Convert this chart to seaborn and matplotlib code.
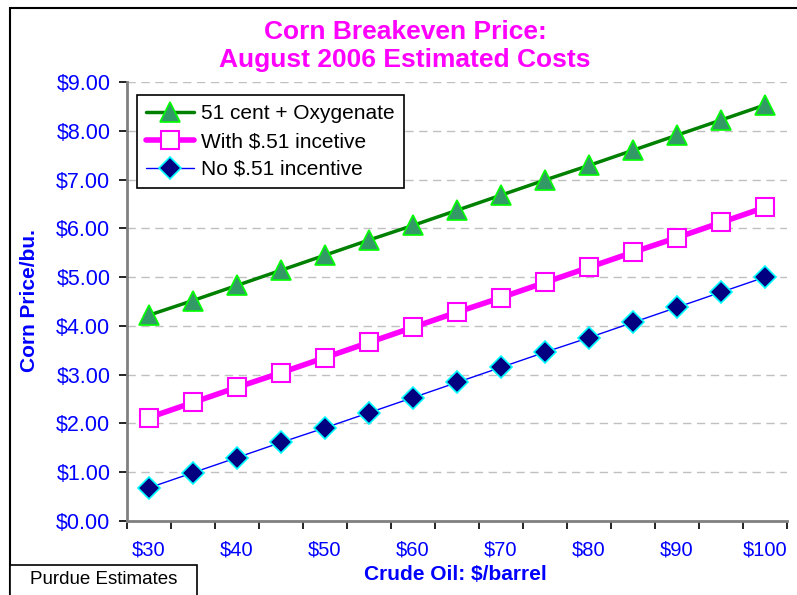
import pandas as pd
import numpy as np
import seaborn as sns
from matplotlib import pyplot as plt
from matplotlib.patches import Rectangle
from matplotlib.ticker import FixedLocator, FuncFormatter

# crude oil price, $/barrel
oil = [30, 35, 40, 45, 50, 55, 60, 65, 70, 75, 80, 85, 90, 95, 100]
# corn breakeven price, $/bu.
oxygenate = [4.22, 4.52, 4.83, 5.14, 5.45, 5.76, 6.06, 6.37, 6.68, 6.99, 7.29, 7.60, 7.91, 8.22, 8.53]
with_inc = [2.12, 2.43, 2.74, 3.04, 3.35, 3.66, 3.97, 4.28, 4.58, 4.89, 5.20, 5.51, 5.81, 6.12, 6.43]
no_inc = [0.68, 0.99, 1.30, 1.61, 1.91, 2.22, 2.53, 2.84, 3.15, 3.46, 3.76, 4.07, 4.38, 4.69, 5.00]

x_labels = [30, 40, 50, 60, 70, 80, 90, 100]
y_ticks = [0, 1, 2, 3, 4, 5, 6, 7, 8, 9]

df = pd.DataFrame({"oil": oil, "oxy": oxygenate, "with": with_inc, "no": no_inc})

sns.set_theme(style="white")
plt.rcParams["font.family"] = ["Liberation Sans", "DejaVu Sans"]

fig = plt.figure(figsize=(7.97, 5.95), dpi=100)
ax = fig.add_axes([127 / 797, 1 - 521 / 595, (787 - 127) / 797, (521 - 82) / 595])

blue = "#0000FF"

sns.lineplot(data=df, x="oil", y="oxy", ax=ax, color="#008000", lw=2.5,
             marker="^", markersize=15, markerfacecolor="#339966",
             markeredgecolor="#00FF00", markeredgewidth=1.2,
             label="51 cent + Oxygenate", zorder=3)
sns.lineplot(data=df, x="oil", y="with", ax=ax, color="#FF00FF", lw=4,
             marker="s", markersize=13, markerfacecolor="white",
             markeredgecolor="#FF00FF", markeredgewidth=1.5,
             label="With $.51 incetive", zorder=3)
sns.lineplot(data=df, x="oil", y="no", ax=ax, color="#0000FF", lw=1,
             marker="D", markersize=11.5, markerfacecolor="#000080",
             markeredgecolor="#00FFFF", markeredgewidth=1.2,
             label="No $.51 incentive", zorder=3)

ax.set_xlim(27.5, 102.5)
ax.set_ylim(0, 9)
ax.set_xticks(x_labels)
ax.set_xticklabels([f"${v}" for v in x_labels])
ax.xaxis.set_minor_locator(FixedLocator(np.arange(27.5, 103, 5)))
ax.tick_params(axis="x", which="major", length=0, pad=14, labelsize=14.5, labelcolor=blue)
ax.tick_params(axis="x", which="minor", length=6, width=1.2, color="black", direction="out", bottom=True)
ax.set_yticks(y_ticks)
ax.yaxis.set_major_formatter(FuncFormatter(lambda v, p: f"${v:.2f}"))
ax.tick_params(axis="y", length=6, width=1.2, color="black", direction="out", left=True,
               labelsize=15.5, labelcolor=blue, pad=6)

ax.grid(axis="y", color="#C0C0C0", ls=(0, (6, 4)), lw=1)
ax.grid(axis="x", visible=False)
for s in ["top", "right"]:
    ax.spines[s].set_visible(False)
for s in ["left", "bottom"]:
    ax.spines[s].set_color("#808080")
    ax.spines[s].set_linewidth(2)

ax.set_xlabel("")
ax.set_ylabel("")
fig.text(30 / 797, 1 - 301 / 595, "Corn Price/bu.", rotation=90, ha="center", va="center",
         fontsize=15, fontweight="bold", color=blue)
fig.text(455 / 797, 1 - 574 / 595, "Crude Oil: $/barrel", ha="center", va="center",
         fontsize=15, fontweight="bold", color=blue)
fig.text(405 / 797, 1 - 46 / 595, "Corn Breakeven Price:\nAugust 2006 Estimated Costs",
         ha="center", va="center", fontsize=19, fontweight="bold", color="#FF00FF",
         linespacing=1.25)

leg = ax.legend(loc="upper left", bbox_to_anchor=(137 / 797, 1 - 95 / 595),
                bbox_transform=fig.transFigure, fontsize=15, frameon=True,
                fancybox=False, edgecolor="black", framealpha=1,
                handlelength=2.3, labelspacing=0.42, borderpad=0.45,
                handletextpad=0.3, borderaxespad=0)
leg.get_frame().set_linewidth(1.2)
for t in leg.get_texts():
    t.set_color("black")

# outer chart border
fig.patches.append(Rectangle((10 / 797, -0.1), 1.0, 1.1 - 8 / 595, transform=fig.transFigure,
                             fill=False, edgecolor="black", lw=1.5))
fig.patches.append(Rectangle((10 / 797, -0.1), 187 / 797, 0.1 + 30 / 595, transform=fig.transFigure,
                             facecolor="white", edgecolor="black", lw=1.2, zorder=5))
fig.text(104 / 797, 1 - 579 / 595, "Purdue Estimates", ha="center", va="center",
         fontsize=13.5, color="black", zorder=6)

plt.savefig("out.png", dpi=100, facecolor="white")
